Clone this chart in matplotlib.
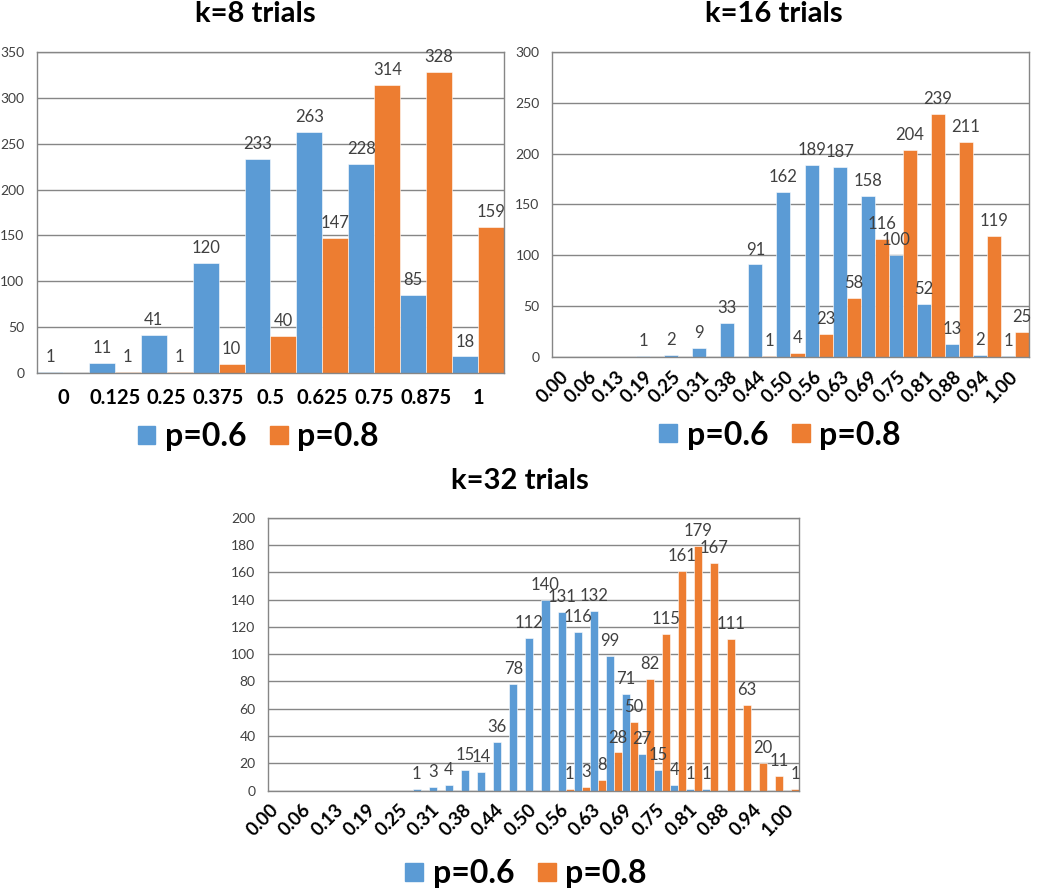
import matplotlib
matplotlib.use('Agg')
import matplotlib.pyplot as plt
from matplotlib.patches import Patch
import numpy as np

plt.rcParams['font.family'] = ['Lato', 'DejaVu Sans']

BLUE = '#5B9BD5'
ORANGE = '#ED7D31'
GRID = '#868686'
LABEL = '#404040'

# k=8 trials
k8_labels = ['0', '0.125', '0.25', '0.375', '0.5', '0.625', '0.75', '0.875', '1']
k8_p06 = [1, 11, 41, 120, 233, 263, 228, 85, 18]
k8_p08 = [0, 1, 1, 10, 40, 147, 314, 328, 159]

# k=16 trials
k16_labels = ['0.00', '0.06', '0.13', '0.19', '0.25', '0.31', '0.38', '0.44', '0.50',
              '0.56', '0.63', '0.69', '0.75', '0.81', '0.88', '0.94', '1.00']
k16_p06 = [0, 0, 0, 1, 2, 9, 33, 91, 162, 189, 187, 158, 100, 52, 13, 2, 1]
k16_p08 = [0, 0, 0, 0, 0, 0, 0, 1, 4, 23, 58, 116, 204, 239, 211, 119, 25]

# k=32 trials (33 categories, every other one labelled)
k32_labels = k16_labels
k32_p06 = [0, 0, 0, 0, 0, 0, 0, 0, 0, 1, 3, 4, 15, 14, 36, 78, 112, 140, 131, 116,
           132, 99, 71, 27, 15, 4, 1, 1, 0, 0, 0, 0, 0]
k32_p08 = [0, 0, 0, 0, 0, 0, 0, 0, 0, 0, 0, 0, 0, 0, 0, 0, 0, 0, 1, 3,
           8, 28, 50, 82, 115, 161, 179, 167, 111, 63, 20, 11, 1]

fig = plt.figure(figsize=(10.5, 8.88), dpi=100)


def panel(rect, a, b, labels, ymax, ystep, title, title_xy, legend_xy,
          every=1, rotate=False):
    ax = fig.add_axes(rect)
    x = np.arange(len(a))
    ax.bar(x - 0.25, a, 0.5, color=BLUE, edgecolor='white', linewidth=0.4, zorder=2)
    ax.bar(x + 0.25, b, 0.5, color=ORANGE, edgecolor='white', linewidth=0.4, zorder=2)
    for xs, vals in ((x - 0.25, a), (x + 0.25, b)):
        for xi, v in zip(xs, vals):
            if v:
                ax.annotate(str(v), (xi, v), xytext=(0, 5), textcoords='offset points',
                            ha='center', va='bottom', fontsize=12, color=LABEL, zorder=3)
    ax.set_xlim(-0.5, len(a) - 0.5)
    ax.set_ylim(0, ymax)
    ax.set_yticks(np.arange(0, ymax + 1, ystep))
    ax.yaxis.grid(True, color=GRID, lw=1)
    ax.set_axisbelow(True)
    for s in ax.spines.values():
        s.set_color(GRID)
        s.set_linewidth(1)
    ax.tick_params(axis='y', length=0, pad=9, labelsize=10, labelcolor=LABEL)
    ax.set_xticks(x[::every])
    if rotate:
        ax.set_xticklabels(labels, fontweight='bold', fontsize=13.5, rotation=45,
                           ha='right', va='center', rotation_mode='anchor')
        ax.tick_params(axis='x', length=0, pad=12)
    else:
        ax.set_xticklabels(labels, fontweight='bold', fontsize=14.5)
        ax.tick_params(axis='x', length=0, pad=11)
    fig.text(title_xy[0], title_xy[1], title, ha='center', va='center',
             fontsize=21, fontweight='bold')
    handles = [Patch(color=BLUE, label='p=0.6'), Patch(color=ORANGE, label='p=0.8')]
    fig.legend(handles=handles, loc='center', bbox_to_anchor=legend_xy, ncol=2,
               frameon=False, prop={'weight': 'bold', 'size': 23},
               handlelength=0.55, handleheight=0.5, handletextpad=0.3,
               columnspacing=0.75)
    return ax


panel([0.0352, 0.580, 0.4448, 0.3615], k8_p06, k8_p08, k8_labels, 350, 50,
      'k=8 trials', (0.243, 0.984), (0.246, 0.508))
panel([0.5257, 0.598, 0.4543, 0.3435], k16_p06, k16_p08, k16_labels, 300, 50,
      'k=16 trials', (0.737, 0.984), (0.743, 0.510), rotate=True)
panel([0.2552, 0.1096, 0.5057, 0.3074], k32_p06, k32_p08, k32_labels, 200, 20,
      'k=32 trials', (0.495, 0.458), (0.501, 0.016), every=2, rotate=True)

fig.savefig('out.png', dpi=100)
